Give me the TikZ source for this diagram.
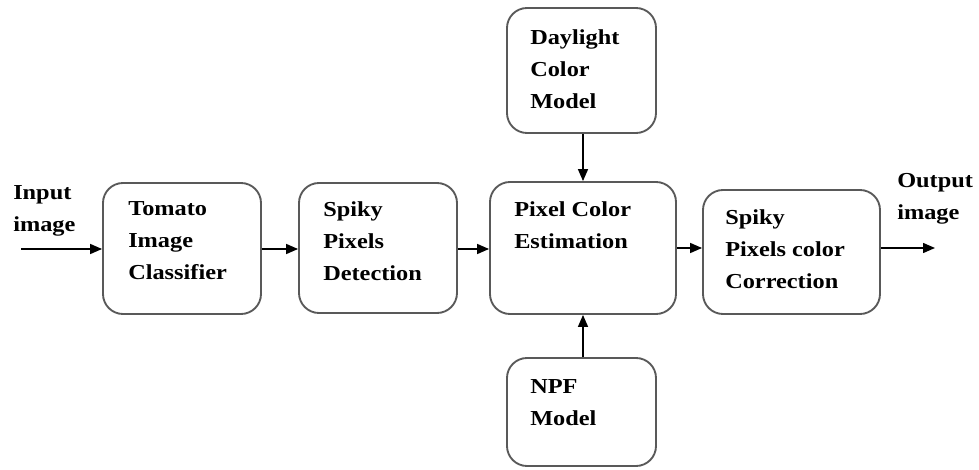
\documentclass[tikz,border=0pt]{standalone}
\usepackage{fontspec}
\setmainfont[FakeStretch=1.14]{Liberation Serif}
\usetikzlibrary{arrows.meta}
% the first line's baseline is the reference point of a stacked label
\newcommand{\stacklines}[1]{\vtop{\baselineskip=24pt\lineskiplimit=-10pt\lineskip=0pt #1}}
\newcommand{\oneline}[1]{\hbox{\strut #1}}
\tikzset{
  blockbox/.style={draw=black!65, line width=1.4pt, rounded corners=15pt, inner sep=0pt},
  blocktext/.style={anchor=base west, inner sep=0pt, font=\fontsize{16}{24}\selectfont\bfseries},
  arr/.style={draw=black, line width=1.1pt, -{Triangle[length=9pt,width=7.5pt]}}
}
\begin{document}
\begin{tikzpicture}[x=0.75pt,y=-0.75pt]
\useasboundingbox (0,0) rectangle (979,470);

% blocks (sizes in pt = 0.75 * pixel size)
\node[blockbox, minimum width=118.5pt, minimum height=98.25pt] (tomato) at (182,248.5) {};
\node[blockbox, minimum width=118.5pt, minimum height=97.5pt]  (spiky)  at (378,248) {};
\node[blockbox, minimum width=139.5pt, minimum height=99pt]    (pce)    at (583,248) {};
\node[blockbox, minimum width=111.75pt, minimum height=93.75pt] (day)   at (581.5,70.5) {};
\node[blockbox, minimum width=111.75pt, minimum height=81pt]   (npf)    at (581.5,412) {};
\node[blockbox, minimum width=132.75pt, minimum height=93pt]   (spc)    at (791.5,252) {};

% block texts
\node[blocktext] (t1) at (128,216) {\stacklines{\oneline{Tomato}\oneline{Image}\oneline{Classifier}}};
\node[blocktext] (t2) at (323,217) {\stacklines{\oneline{Spiky}\oneline{Pixels}\oneline{Detection}}};
\node[blocktext] (t3) at (514,217) {\stacklines{\oneline{Pixel Color}\oneline{Estimation}}};
\node[blocktext] (t4) at (530,45)  {\stacklines{\oneline{Daylight}\oneline{Color}\oneline{Model}}};
\node[blocktext] (t5) at (530,394) {\stacklines{\oneline{NPF}\oneline{Model}}};
\node[blocktext] (t6) at (725,225) {\stacklines{\oneline{Spiky}\oneline{Pixels color}\oneline{Correction}}};

% input / output labels
\node[blocktext] (inlbl)  at (13,200)  {\stacklines{\oneline{Input}\oneline{image}}};
\node[blocktext] (outlbl) at (897,188) {\stacklines{\oneline{Output}\oneline{image}}};

% connectors
\coordinate (in) at (21,249);
\coordinate (out) at (935,248);
\draw[arr] (in) -- (tomato.west |- in);
\draw[arr] (tomato.east |- in) -- (spiky.west |- in);
\draw[arr] (spiky.east |- in) -- (pce.west |- in);
\draw[arr] (pce.east |- out) -- (spc.west |- out);
\draw[arr] (spc.east |- out) -- (out);
\draw[arr] (day.south -| pce.north) -- (pce.north);
\draw[arr] (npf.north -| pce.south) -- (pce.south);
\end{tikzpicture}
\end{document}
